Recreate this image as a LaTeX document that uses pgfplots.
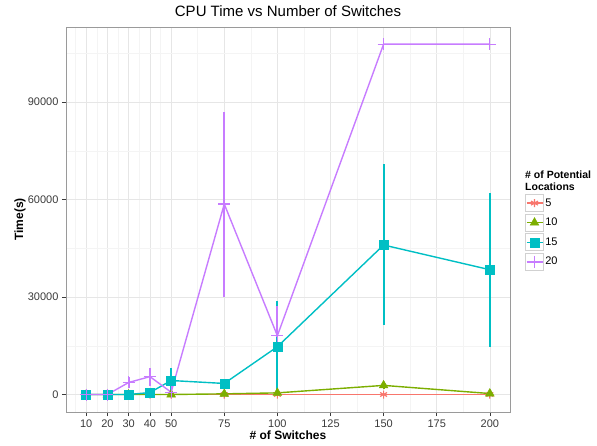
\documentclass[border=0pt]{standalone}
\usepackage{pgfplots}
\pgfplotsset{compat=1.18}
\usepackage{pgfplotstable}
\usepackage{fontspec}
\setmainfont{Liberation Sans}
\definecolor{cred}{HTML}{F8766D}
\definecolor{cgreen}{HTML}{7CAE00}
\definecolor{cteal}{HTML}{00BFC4}
\definecolor{cpurple}{HTML}{C77CFF}
\definecolor{gmaj}{HTML}{E6E6E6}
\definecolor{gmin}{HTML}{F4F4F4}
\definecolor{border}{HTML}{9A9A9A}
\definecolor{ticktxt}{HTML}{3A3A3A}

% series values
\pgfplotstableread{
x y
10 0
20 0
30 0
40 0
50 0
75 0
100 0
150 0
200 0
}\dataA
\pgfplotstableread{
x y
10 0
20 0
30 0
40 0
50 0
75 200
100 500
150 2800
200 300
}\dataB
\pgfplotstableread{
x y
10 0
20 0
30 0
40 600
50 4300
75 3400
100 14700
150 46000
200 38400
}\dataC
\pgfplotstableread{
x y
10 0
20 0
30 3700
40 5500
50 700
75 58600
100 18100
150 107800
200 107800
}\dataD
% error bar ends (low, high), separated by nan
\pgfplotstableread{
x y
150 1600
150 4000
}\errB
\pgfplotstableread{
x y
40 300
40 900
40 nan
50 800
50 8300
50 nan
75 2900
75 3900
75 nan
100 700
100 28700
100 nan
150 21500
150 71000
150 nan
200 14700
200 62000
}\errC
\pgfplotstableread{
x y
30 1900
30 5500
30 nan
40 2700
40 8300
40 nan
50 200
50 1200
50 nan
75 30100
75 86900
75 nan
100 17600
100 27100
}\errD

\begin{document}
\begin{tikzpicture}
\useasboundingbox (-66pt,-33pt) rectangle (531pt,412pt);
\begin{axis}[
  at={(0pt,0pt)}, anchor=south west,
  scale only axis, width=444pt, height=385pt,
  xmin=0.5, xmax=209.5, ymin=-5385, ymax=113085,
  scaled y ticks=false, scaled x ticks=false,
  unbounded coords=jump,
  xtick={10,20,30,40,50,75,100,125,150,175,200},
  xticklabels={10,20,30,40,50,75,100,125,150,175,200},
  ytick={0,30000,60000,90000},
  yticklabels={0,30000,60000,90000},
  minor xtick={5,15,25,35,45,62.5,87.5,112.5,137.5,162.5,187.5},
  minor ytick={15000,45000,75000,105000},
  grid=both,
  major grid style={color=gmaj, line width=0.6pt},
  minor grid style={color=gmin, line width=0.5pt},
  axis line style={border, line width=0.8pt},
  tick pos=left, tick align=outside,
  major tick length=4pt, minor tick length=0pt,
  tick style={color=ticktxt, line width=0.6pt},
  tick label style={font=\fontsize{11}{11}\selectfont, color=ticktxt},
  title={CPU Time vs Number of Switches},
  title style={at={(0.5,1.0104)}, anchor=base, inner sep=0pt, font=\fontsize{15}{15}\selectfont},
  xlabel={\# of Switches},
  xlabel style={at={(0.5,-0.0727)}, anchor=base, inner sep=0pt, font=\bfseries\fontsize{12}{12}\selectfont},
  ylabel={Time(s)},
  ylabel style={at={(-0.1036,0.5)}, anchor=center, inner sep=0pt, font=\bfseries\fontsize{12}{12}\selectfont},
  legend style={at={(1.0338,0.566)}, anchor=north west, draw=none, fill=none,
    inner sep=0pt, row sep=2pt, font=\fontsize{11}{11}\selectfont,
    nodes={inner sep=1.5pt}},
  legend cell align=left,
  legend image code/.code={
    \draw[black!18, fill=white, line width=0.6pt] (0pt,-8.5pt) rectangle (18pt,8.5pt);
    \draw[mark repeat=2,mark phase=2,#1] plot coordinates {(1pt,0pt)(9pt,0pt)(17pt,0pt)};
  },
  extra description/.code={
    \node[anchor=north west, align=left, inner sep=0pt, font=\bfseries\fontsize{10.5}{11.5}\selectfont]
      at (1.0338,0.626) {\# of Potential\\Locations};
  },
]
\addplot[color=cred, line width=1.4pt, mark=asterisk, mark size=4pt, mark options={solid, line width=1.2pt}]
  table[x=x, y=y] {\dataA};
\addlegendentry{5}
\addplot[color=cgreen, line width=1.4pt, mark=triangle*, mark size=5pt, mark options={solid, fill=cgreen, line width=0.5pt}]
  table[x=x, y=y] {\dataB};
\addlegendentry{10}
\addplot[color=cgreen, line width=2pt, forget plot] table[x=x, y=y] {\errB};
\addplot[color=cteal, line width=1.4pt, mark=square*, mark size=4.5pt, mark options={solid, fill=cteal, line width=0.5pt}]
  table[x=x, y=y] {\dataC};
\addlegendentry{15}
\addplot[color=cteal, line width=2pt, forget plot] table[x=x, y=y] {\errC};
\addplot[color=cpurple, line width=1.4pt, mark=+, mark size=6pt, mark options={solid, line width=1.2pt}]
  table[x=x, y=y] {\dataD};
\addlegendentry{20}
\addplot[color=cpurple, line width=2pt, forget plot] table[x=x, y=y] {\errD};
\end{axis}
\end{tikzpicture}
\end{document}
